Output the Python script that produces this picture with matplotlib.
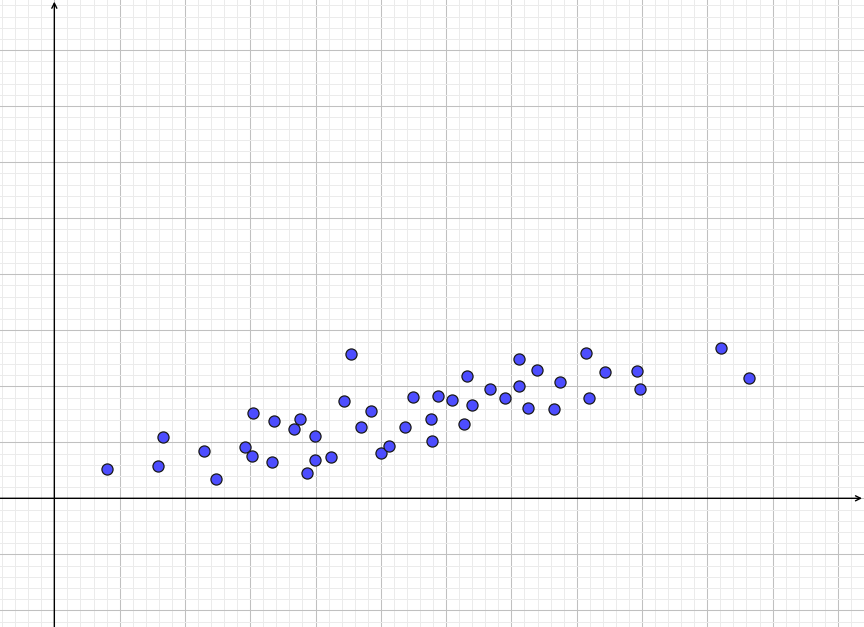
import matplotlib
matplotlib.use('Agg')
import matplotlib.pyplot as plt
from matplotlib.ticker import MultipleLocator
import numpy as np

# point coordinates (one major grid square = 1 unit)
x_vals = [0.81, 1.59, 1.67, 2.29, 2.47, 2.92, 3.03, 3.04, 3.33, 3.37,
          3.67, 3.77, 3.87, 3.99, 3.99, 4.23, 4.44, 4.54, 4.70, 4.85,
          5.00, 5.12, 5.37, 5.49, 5.77, 5.79, 5.88, 6.09, 6.27, 6.32,
          6.40, 6.67, 6.90, 7.11, 7.11, 7.25, 7.39, 7.66, 7.74, 8.15,
          8.19, 8.43, 8.93, 8.97, 10.21, 10.64]
y_vals = [0.53, 0.58, 1.09, 0.84, 0.34, 0.92, 0.76, 1.53, 0.65, 1.38,
          1.23, 1.42, 0.46, 1.11, 0.69, 0.74, 1.74, 2.58, 1.27, 1.56,
          0.81, 0.94, 1.28, 1.81, 1.41, 1.03, 1.83, 1.75, 1.32, 2.18,
          1.67, 1.95, 1.80, 2.01, 2.49, 1.61, 2.30, 1.59, 2.08, 2.59,
          1.79, 2.26, 2.28, 1.95, 2.68, 2.15]

xmin, xmax = -0.832, 12.40
ymin, ymax = -2.298, 8.898

fig = plt.figure(figsize=(8.64, 6.27), dpi=100)
ax = fig.add_axes([0, 0, 1, 1])
ax.set_xlim(xmin, xmax)
ax.set_ylim(ymin, ymax)

# grid: major every unit, minor every fifth
ax.xaxis.set_major_locator(MultipleLocator(1))
ax.yaxis.set_major_locator(MultipleLocator(1))
ax.xaxis.set_minor_locator(MultipleLocator(0.2))
ax.yaxis.set_minor_locator(MultipleLocator(0.2))
ax.grid(which='minor', color='#ebebeb', lw=0.72)
ax.grid(which='major', color='#c0c0c0', lw=0.75)
ax.set_axisbelow(True)
ax.tick_params(which='both', length=0, labelbottom=False, labelleft=False)
for s in ax.spines.values():
    s.set_visible(False)

# axes with arrow heads
arrow = dict(arrowstyle='->', lw=1.0, color='black', mutation_scale=9,
             shrinkA=0, shrinkB=0)
ax.annotate('', xy=(xmax - 0.03, 0), xytext=(xmin, 0), arrowprops=arrow, zorder=2)
ax.annotate('', xy=(0, ymax - 0.03), xytext=(0, ymin), arrowprops=arrow, zorder=2)

ax.scatter(x_vals, y_vals, s=64, color='#4d4dff', edgecolors='#1a1a1a',
           linewidths=0.9, zorder=3)

plt.savefig('out.png', dpi=100)
plt.close(fig)
